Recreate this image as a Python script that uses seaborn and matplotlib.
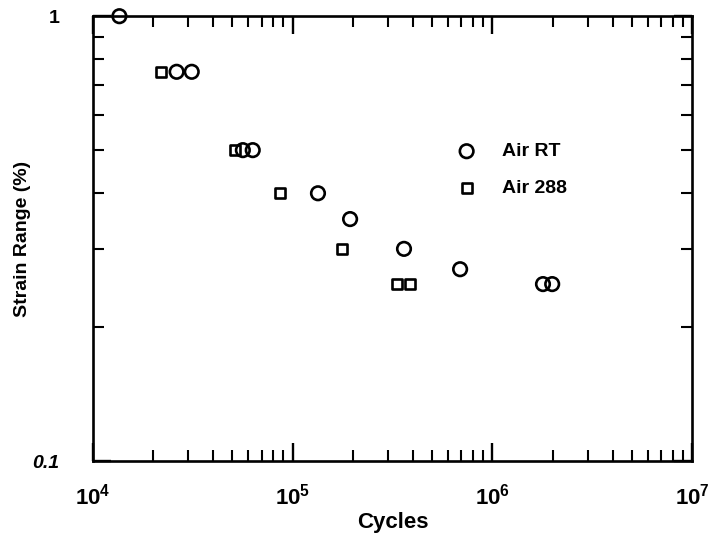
import numpy as np
import pandas as pd
import matplotlib
matplotlib.use("Agg")
import matplotlib.pyplot as plt
import seaborn as sns
from matplotlib.ticker import LogLocator, NullFormatter, FixedLocator

# ----------------------
# Data
# ----------------------
rt_cycles = [1.36e4, 2.63e4, 3.13e4, 5.64e4, 6.32e4, 1.34e5, 1.94e5, 3.61e5, 6.89e5, 1.79e6, 1.99e6]
rt_strain = [1.0, 0.75, 0.75, 0.5, 0.5, 0.4, 0.35, 0.30, 0.27, 0.25, 0.25]

hot_cycles = [2.19e4, 5.14e4, 8.63e4, 1.77e5, 3.33e5, 3.87e5]
hot_strain = [0.75, 0.5, 0.4, 0.30, 0.25, 0.25]

series_names = ["Air RT", "Air 288"]
x_ticks = [1e4, 1e5, 1e6, 1e7]
x_tick_labels = ["$10^{4}$", "$10^{5}$", "$10^{6}$", "$10^{7}$"]
y_ticks = [0.1, 1]
y_tick_labels = ["0.1", "1"]

df = pd.concat([
    pd.DataFrame({"Cycles": rt_cycles, "Strain": rt_strain, "Test": series_names[0]}),
    pd.DataFrame({"Cycles": hot_cycles, "Strain": hot_strain, "Test": series_names[1]}),
], ignore_index=True)

# ----------------------
# Style
# ----------------------
sns.set_style("ticks")
plt.rcParams["font.family"] = ["Liberation Sans", "DejaVu Sans"]
plt.rcParams["text.color"] = "black"
plt.rcParams["axes.labelcolor"] = "black"
plt.rcParams["xtick.color"] = "black"
plt.rcParams["ytick.color"] = "black"
plt.rcParams["mathtext.fontset"] = "custom"
plt.rcParams["mathtext.rm"] = "Liberation Sans:bold"
plt.rcParams["mathtext.it"] = "Liberation Sans:bold"
plt.rcParams["mathtext.bf"] = "Liberation Sans:bold"

fig = plt.figure(figsize=(7.13, 5.4), dpi=100)
ax = fig.add_axes([0.130, 0.146, 0.841, 0.824])

marker_map = {"Air RT": "o", "Air 288": "s"}
size_map = {"Air RT": 95, "Air 288": 52}
for name in series_names:
    sub = df[df["Test"] == name]
    sns.scatterplot(data=sub, x="Cycles", y="Strain", marker=marker_map[name],
                    s=size_map[name], facecolors="none", edgecolor="black",
                    linewidth=1.9, clip_on=False, zorder=5, ax=ax, label=name)

ax.set_xscale("log")
ax.set_yscale("log")
ax.set_xlim(1e4, 1e7)
ax.set_ylim(0.1, 1)

ax.xaxis.set_major_locator(FixedLocator(x_ticks))
ax.set_xticklabels(x_tick_labels, fontsize=16)
ax.xaxis.set_minor_locator(LogLocator(base=10, subs=np.arange(2, 10)))
ax.xaxis.set_minor_formatter(NullFormatter())

ax.yaxis.set_major_locator(FixedLocator(y_ticks))
ax.set_yticklabels(y_tick_labels, fontsize=14, fontweight="bold")
ax.get_yticklabels()[0].set_style("italic")
ax.yaxis.set_minor_locator(LogLocator(base=10, subs=np.arange(2, 10)))
ax.yaxis.set_minor_formatter(NullFormatter())

ax.tick_params(axis="both", which="major", direction="in", length=13, width=1.7,
               top=True, right=True, color="black")
ax.tick_params(axis="both", which="minor", direction="in", length=8, width=1.5,
               top=True, right=True, color="black")
ax.tick_params(axis="x", which="major", pad=16)
ax.tick_params(axis="y", which="major", pad=24)

for sp in ax.spines.values():
    sp.set_linewidth(1.9)
    sp.set_color("black")

ax.set_xlabel("Cycles", fontsize=16, fontweight="bold", labelpad=2)
ax.set_ylabel("Strain Range (%)", fontsize=14, fontweight="bold", labelpad=1)

ax.legend(loc="upper left", bbox_to_anchor=(0.562, 0.755), frameon=False,
          prop={"size": 14, "weight": "bold"}, handletextpad=0.8,
          labelspacing=1.0, markerscale=1.0)

fig.savefig("out.png", dpi=100, facecolor="white")
